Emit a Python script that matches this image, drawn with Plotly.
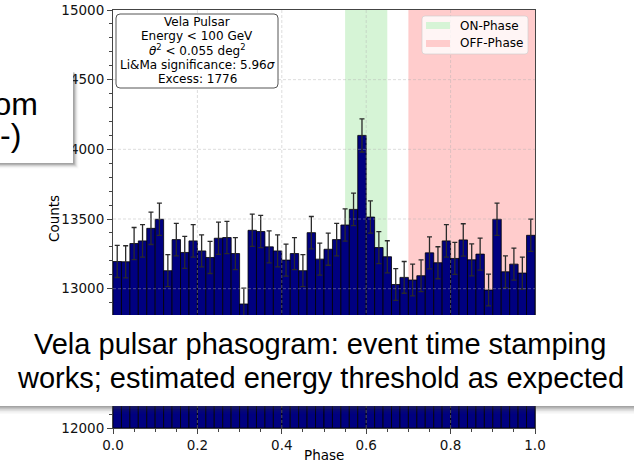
import plotly.graph_objects as go

# ---------------- data ----------------
phase_centers = [0.01, 0.03, 0.05, 0.07, 0.09, 0.11, 0.13, 0.15, 0.17, 0.19,
                 0.21, 0.23, 0.25, 0.27, 0.29, 0.31, 0.33, 0.35, 0.37, 0.39,
                 0.41, 0.43, 0.45, 0.47, 0.49, 0.51, 0.53, 0.55, 0.57, 0.59,
                 0.61, 0.63, 0.65, 0.67, 0.69, 0.71, 0.73, 0.75, 0.77, 0.79,
                 0.81, 0.83, 0.85, 0.87, 0.89, 0.91, 0.93, 0.95, 0.97, 0.99]
counts = [13195, 13193, 13324, 13343, 13433, 13498, 13129, 13352, 13260, 13343,
          13271, 13224, 13362, 13367, 13252, 12890, 13419, 13410, 13300, 13271,
          13205, 13252, 13129, 13402, 13212, 13283, 13352, 13457, 13569, 14100,
          13514, 13295, 13229, 13030, 13081, 13062, 13093, 13257, 13186, 13343,
          13217, 13350, 13207, 13248, 12990, 13498, 13121, 13176, 13112, 13383]
count_errors = [115, 115, 115, 116, 116, 116, 115, 116, 115, 116,
                115, 115, 116, 116, 115, 114, 116, 116, 115, 115,
                115, 115, 115, 116, 115, 115, 116, 116, 116, 119,
                116, 115, 115, 114, 114, 114, 114, 115, 115, 116,
                115, 116, 115, 115, 114, 116, 115, 115, 115, 116]
on_phase = [0.55, 0.65]
off_phase = [0.70, 1.00]
x_ticks = [0.0, 0.2, 0.4, 0.6, 0.8, 1.0]
y_ticks = [12000, 12500, 13000, 13500, 14000, 14500, 15000]
y_tick_text = ["12000", "", "13000", "13500", "14000", "14500", "15000"]  # 12500 hidden by banner
stats_lines = ["Vela Pulsar", "Energy < 100 GeV", "<i>θ</i><sup>2</sup> < 0.055 deg<sup>2</sup>",
               "Li&Ma significance: 5.96<i>σ</i>", "Excess: 1776"]
legend_labels = ["ON-Phase", "OFF-Phase"]
banner_lines = ["Vela pulsar phasogram: event time stamping",
                "works; estimated energy threshold as expected"]
side_lines = ["from", "-)"]

# ---------------- layout geometry (pixels) ----------------
W, H = 634, 462
L, R, T, B = 113, 535, 10, 428


def px(x):
    return (x - L) / (R - L)


def py(y):
    return (B - y) / (B - T)


DEJAVU = "DejaVu Sans"
ARIAL = "Liberation Sans, Arial"
ON_COLOR = "rgb(214,244,214)"
OFF_COLOR = "rgb(255,204,204)"

fig = go.Figure()
fig.add_trace(go.Bar(
    x=phase_centers, y=[c - 12000 for c in counts], base=12000,
    width=0.02,
    marker=dict(color="#000080", line=dict(color="black", width=0.8)),
    error_y=dict(type="data", array=count_errors, color="#2a2a2a", thickness=1.3, width=2.5),
    showlegend=False, hoverinfo="skip",
))

shapes = []
shapes.append(dict(type="rect", xref="x", yref="paper", x0=on_phase[0], x1=on_phase[1], y0=0, y1=1,
                   fillcolor=ON_COLOR, line=dict(width=0), layer="below"))
shapes.append(dict(type="rect", xref="x", yref="paper", x0=off_phase[0], x1=off_phase[1], y0=0, y1=1,
                   fillcolor=OFF_COLOR, line=dict(width=0), layer="below"))
grid_line = dict(color="rgba(176,176,176,0.55)", width=0.8, dash="3px,2px")
for xv in x_ticks[1:-1]:
    shapes.append(dict(type="line", xref="x", yref="paper", x0=xv, x1=xv, y0=0, y1=1,
                       line=grid_line, layer="above"))
for yv in y_ticks[1:-1]:
    shapes.append(dict(type="line", xref="paper", yref="y", x0=0, x1=1, y0=yv, y1=yv,
                       line=grid_line, layer="above"))


def rounded_rect(x0, y0, x1, y1, r):
    X0, X1 = px(x0), px(x1)
    Y0, Y1 = py(y0), py(y1)
    rx = r / (R - L)
    ry = r / (B - T)
    return (f"M {X0+rx},{Y0} L {X1-rx},{Y0} Q {X1},{Y0} {X1},{Y0-ry} "
            f"L {X1},{Y1+ry} Q {X1},{Y1} {X1-rx},{Y1} L {X0+rx},{Y1} "
            f"Q {X0},{Y1} {X0},{Y1+ry} L {X0},{Y0-ry} Q {X0},{Y0} {X0+rx},{Y0} Z")


shapes.append(dict(type="path", xref="paper", yref="paper", path=rounded_rect(116, 14, 278, 88, 4),
                   fillcolor="white", line=dict(color="#555555", width=1), layer="above"))
shapes.append(dict(type="path", xref="paper", yref="paper", path=rounded_rect(422, 16, 528, 54, 3),
                   fillcolor="rgba(255,255,255,0.8)", line=dict(color="rgba(204,204,204,0.8)", width=0.8),
                   layer="above"))


def prect(x0, y0, x1, y1, color):
    return dict(type="rect", xref="paper", yref="paper", x0=px(x0), x1=px(x1), y0=py(y0), y1=py(y1),
                fillcolor=color, line=dict(width=0), layer="above")


shapes.append(prect(426, 22, 450, 29, ON_COLOR))
shapes.append(prect(426, 40, 450, 47, OFF_COLOR))

# slide overlay: left text box with shadow
for i, a in enumerate([0.22, 0.15, 0.10, 0.06, 0.03]):
    shapes.append(prect(-5, 72 + i, 73 + i + 1.5, 163 + i + 1.5, f"rgba(60,60,60,{a})"))
shapes.append(prect(-5, 72, 73, 163, "white"))
# slide overlay: bottom banner with shadow
for i, a in enumerate([0.22, 0.15, 0.10, 0.06, 0.03]):
    shapes.append(prect(-5, 315, W + 5, 406 + 1.6 * (i + 1), f"rgba(60,60,60,{a})"))
shapes.append(prect(-5, 315, W + 5, 406, "white"))

annotations = []
for i, t in enumerate(stats_lines):
    annotations.append(dict(xref="paper", yref="paper", x=px(197), y=py(22 + 14.2 * i), text=t,
                            showarrow=False, xanchor="center", yanchor="middle",
                            font=dict(family=DEJAVU, size=12, color="black")))
for yy, t in zip([25.5, 43.5], legend_labels):
    annotations.append(dict(xref="paper", yref="paper", x=px(458), y=py(yy), text=t,
                            showarrow=False, xanchor="left", yanchor="middle",
                            font=dict(family=DEJAVU, size=12, color="black")))
annotations.append(dict(xref="paper", yref="paper", x=px(54), y=py(219), text="Counts", textangle=-90,
                        showarrow=False, xanchor="center", yanchor="middle",
                        font=dict(family=DEJAVU, size=13.5, color="black")))
annotations.append(dict(xref="paper", yref="paper", x=px(324), y=py(455), text="Phase",
                        showarrow=False, xanchor="center", yanchor="middle",
                        font=dict(family=DEJAVU, size=13.5, color="black")))
annotations.append(dict(xref="paper", yref="paper", x=px(40), y=py(104), text=side_lines[0],
                        showarrow=False, xanchor="right", yanchor="middle",
                        font=dict(family=ARIAL, size=32, color="black")))
annotations.append(dict(xref="paper", yref="paper", x=px(-2), y=py(135), text=side_lines[1],
                        showarrow=False, xanchor="left", yanchor="middle",
                        font=dict(family=ARIAL, size=32, color="black")))
for yy, t in zip([344, 378], banner_lines):
    annotations.append(dict(xref="paper", yref="paper", x=px(320), y=py(yy), text=t,
                            showarrow=False, xanchor="center", yanchor="middle",
                            font=dict(family=ARIAL, size=29, color="black")))

axis_common = dict(showline=True, mirror=True, linecolor="#444444", linewidth=1,
                   ticks="outside", ticklen=5, tickwidth=1, tickcolor="#444444",
                   showgrid=False, zeroline=False, automargin=False,
                   tickfont=dict(family=DEJAVU, size=13.5, color="#111111"))

fig.update_layout(
    width=W, height=H,
    margin=dict(l=L, r=W - R, t=T, b=H - B, pad=0, autoexpand=False),
    paper_bgcolor="white", plot_bgcolor="white",
    bargap=0, showlegend=False,
    shapes=shapes, annotations=annotations,
    xaxis=dict(range=[0, 1], tickvals=x_ticks, ticktext=[f"{v:.1f}" for v in x_ticks],
               minor=dict(dtick=0.05, ticks="outside", ticklen=3, tickcolor="#444444", showgrid=False),
               **axis_common),
    yaxis=dict(range=[12000, 15000], tickvals=y_ticks, ticktext=y_tick_text,
               minor=dict(dtick=100, ticks="outside", ticklen=3, tickcolor="#444444", showgrid=False),
               **axis_common),
)

fig.write_html("out.html", config={"displayModeBar": False, "staticPlot": True},
               post_script="document.body.style.margin='0';document.body.style.overflow='hidden';")
